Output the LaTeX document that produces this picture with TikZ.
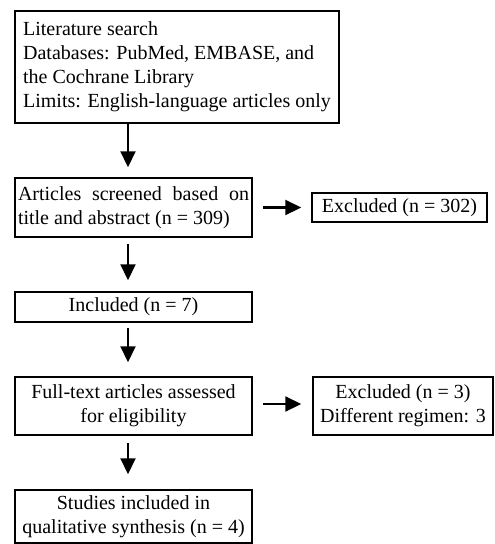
\documentclass[tikz,border=0pt]{standalone}
\usepackage{fontspec}
\setmainfont{Liberation Serif}
\usetikzlibrary{arrows.meta}
\begin{document}
\begin{tikzpicture}[x=1pt,y=1pt,
  box/.style={draw=black, line width=1.5pt, inner sep=0pt, font=\fontsize{20}{24}\selectfont, text=black},
  arr/.style={line width=2.2pt, -{Triangle[width=15pt,length=16pt]}}]
\useasboundingbox (0,0) rectangle (495,-544);
\node[box, minimum width=324pt, minimum height=112pt, align=left] (b1) at (177,-67)
  {Literature search\\Databases: PubMed, EMBASE, and\\the Cochrane Library\\Limits: English-language articles only};
\node[box, minimum width=237pt, minimum height=59pt, text width=231pt, align=justify] (b2) at (133.5,-207.5)
  {Articles screened based on\linebreak title and abstract (n = 309)};
\node[box, minimum width=175pt, minimum height=29pt, align=center] (e1) at (399.5,-207.5)
  {Excluded (n = 302)};
\node[box, minimum width=237pt, minimum height=30pt, align=center] (b3) at (133.5,-307)
  {Included (n = 7)};
\node[box, minimum width=237pt, minimum height=58pt, align=center] (b4) at (133.5,-406)
  {Full-text articles assessed\\for eligibility};
\node[box, minimum width=180pt, minimum height=58pt, align=center] (e2) at (403,-406)
  {Excluded (n = 3)\\Different regimen: 3};
\node[box, minimum width=237pt, minimum height=53pt, align=center] (b5) at (133.5,-516.5)
  {Studies included in\\qualitative synthesis (n = 4)};
\draw[arr] ([xshift=-49pt]b1.south) -- ([xshift=-5.5pt,yshift=10pt]b2.north);
\draw[arr] ([xshift=-5.5pt,yshift=-6pt]b2.south) -- ([xshift=-5.5pt,yshift=11pt]b3.north);
\draw[arr] ([xshift=-5.5pt,yshift=-5pt]b3.south) -- ([xshift=-5.5pt,yshift=14pt]b4.north);
\draw[arr] ([xshift=-5.5pt,yshift=-7pt]b4.south) -- ([xshift=-5.5pt,yshift=15pt]b5.north);
\draw[arr] ([xshift=10pt]b2.east) -- ([xshift=-10pt]e1.west);
\draw[arr] ([xshift=10pt,yshift=2pt]b4.east) -- ([xshift=-11pt,yshift=2pt]e2.west);
\end{tikzpicture}
\end{document}
